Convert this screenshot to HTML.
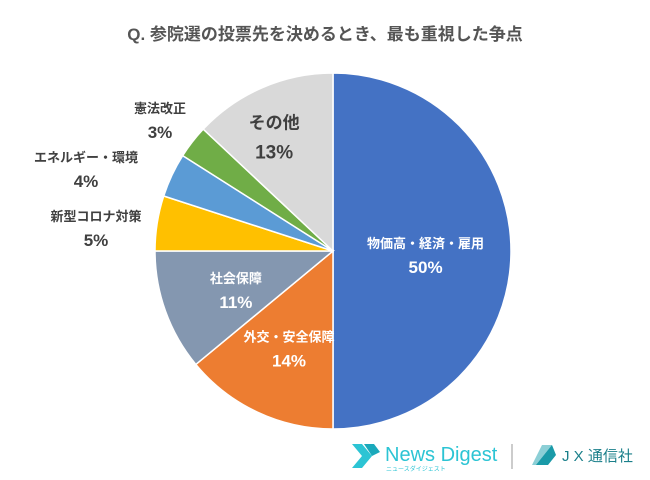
<!DOCTYPE html>
<html><head><meta charset="utf-8">
<style>
body{margin:0;background:#fff;}
svg{display:block;font-family:"Liberation Sans","Noto Sans CJK JP",sans-serif;}
</style></head>
<body>
<svg width="650" height="480" viewBox="0 0 650 480">
<text x="325" y="40" text-anchor="middle" font-size="17" font-weight="bold" fill="#555">Q. 参院選の投票先を決めるとき、最も重視した争点</text>
<g id="slices"></g>
<g id="labels"></g>
<g>
<polygon points="352,444 362,444 372,456 362,468 352,468 362,456" fill="#2cc4d4"/>
<polygon points="364,444 374,444 380,452 372,456" fill="#1aa9bb"/>
<text x="385" y="461" font-size="20" fill="#2cc4d4">News Digest</text>
<text x="386" y="471" font-size="6" fill="#2cc4d4">ニュースダイジェスト</text>
</g>
<line x1="512" y1="444" x2="512" y2="469" stroke="#999" stroke-width="1"/>
<g>
<polygon points="532,465 542,445 552,445 542,465" fill="#8ccfd6"/>
<polygon points="536,465 552,445 556,455 548,465" fill="#1a9aa8"/>
<text x="562" y="461" font-size="15" fill="#1a7f8a">J X 通信社</text>
</g>
</svg>
<script>
const categories=["物価高・経済・雇用","外交・安全保障","社会保障","新型コロナ対策","エネルギー・環境","憲法改正","その他"];
const values=[50,14,11,5,4,3,13];
const valueLabels=["50%","14%","11%","5%","4%","3%","13%"];
const colors=["#4472c4","#ed7d31","#8497b0","#ffc000","#5b9bd5","#70ad47","#d9d9d9"];
const cx=333,cy=251,r=178;
const ns="http://www.w3.org/2000/svg";
const total=values.reduce((a,b)=>a+b,0);
const g=document.getElementById('slices'),lg=document.getElementById('labels');
let a0=0;
values.forEach((v,i)=>{
  const a1=a0+v/total*2*Math.PI;
  const p=a=>[cx+r*Math.sin(a),cy-r*Math.cos(a)];
  const [x0,y0]=p(a0),[x1,y1]=p(a1);
  const path=document.createElementNS(ns,'path');
  path.setAttribute('d',`M${cx},${cy} L${x0},${y0} A${r},${r} 0 ${a1-a0>Math.PI?1:0} 1 ${x1},${y1} Z`);
  path.setAttribute('fill',colors[i]);
  path.setAttribute('stroke','#fff');
  path.setAttribute('stroke-width','1.5');
  
  
  g.appendChild(path);
  const mid=(a0+a1)/2;
  const small=v<=5;
  const rf=small?(v<=3?1.17:1.45):(v===13?0.72:(v>=50?0.52:0.58));
  let lx=cx+r*rf*Math.sin(mid),ly=cy-r*rf*Math.cos(mid);
  if(v===4){lx=86;ly=165;} if(v===5){lx=96;ly=224;} if(v===3){lx=160;ly=116;}
  if(v===13){lx-=8;ly-=2;}
  const dark=small||colors[i]==="#d9d9d9";
  const fill=dark?"#404040":"#fff";
  const t1=document.createElementNS(ns,'text');
  t1.setAttribute('x',lx);t1.setAttribute('y',ly-3);
  t1.setAttribute('text-anchor','middle');
  t1.setAttribute('font-size',v===13?'17':'13');
  t1.setAttribute('font-weight','bold');
  t1.setAttribute('fill',fill);
  t1.textContent=categories[i];
  
  
  lg.appendChild(t1);
  const t2=document.createElementNS(ns,'text');
  t2.setAttribute('x',lx);t2.setAttribute('y',ly+(v===13?27:22));
  t2.setAttribute('text-anchor','middle');
  t2.setAttribute('font-size',v===13?'19':'17');
  t2.setAttribute('font-weight','bold');
  t2.setAttribute('fill',fill);
  t2.textContent=valueLabels[i];
  
  
  lg.appendChild(t2);
  a0=a1;
});
</script>
</body></html>
